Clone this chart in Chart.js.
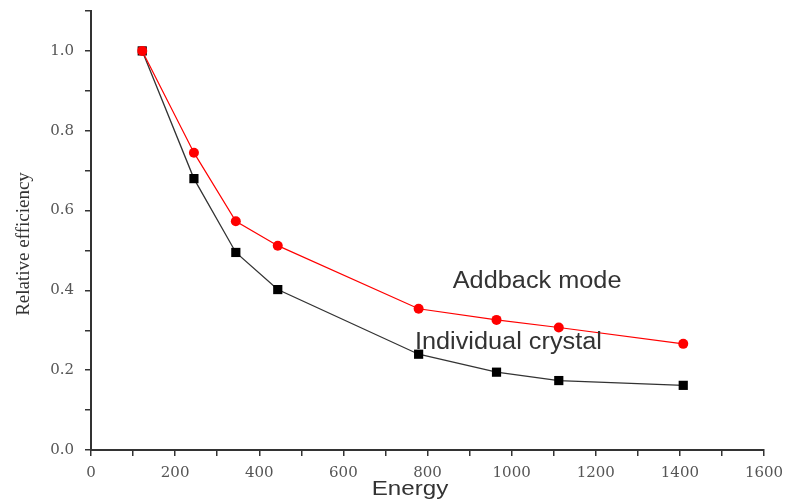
<!DOCTYPE html>
<html>
<head>
<meta charset="utf-8">
<script src="https://cdn.jsdelivr.net/npm/chart.js@4.4.0/dist/chart.umd.min.js"></script>
<style>
    html, body { margin: 0; padding: 0; background: #fff; }
    #wrap { position: relative; width: 788px; height: 504px; }
</style>
</head>
<body>
<div id="wrap"><canvas id="effChart"></canvas></div>
<script>
// Eu-152 gamma lines (keV) and relative efficiencies
const energies = [121.8, 244.7, 344.3, 444.0, 778.9, 964.1, 1112.1, 1408.0];
const addbackEff = [1.0, 0.745, 0.573, 0.512, 0.354, 0.326, 0.307, 0.266];
const crystalEff = [1.0, 0.680, 0.495, 0.402, 0.240, 0.195, 0.174, 0.162];

const xTitle = 'Energy';
const yTitle = 'Relative efficiency';
const addbackLabel = 'Addback mode';
const crystalLabel = 'Individual crystal';

const axisColor = '#333';
const tickFont = { family: 'DejaVu Serif', size: 15 };

function toPoints(xs, ys) {
    return xs.map((x, i) => ({ x: x, y: ys[i] }));
}

// text a bit wider than the font, like the original scan
function stretchedText(ctx, text, x, y, sx) {
    ctx.save();
    ctx.translate(x, y);
    ctx.scale(sx, 1);
    ctx.fillText(text, 0, 0);
    ctx.restore();
}

// Draws the axis titles and the in-plot series labels
const textPlugin = {
    id: 'textLabels',
    afterDraw(chart) {
        const ctx = chart.ctx;
        const xs = chart.scales.x;
        const ys = chart.scales.y;
        ctx.save();
        ctx.fillStyle = '#333';
        ctx.textBaseline = 'middle';

        ctx.font = '23px "Liberation Sans", Arial, sans-serif';
        ctx.textAlign = 'left';
        stretchedText(ctx, addbackLabel, xs.getPixelForValue(860), ys.getPixelForValue(0.4215), 1.1);
        stretchedText(ctx, crystalLabel, xs.getPixelForValue(770), ys.getPixelForValue(0.2687), 1.1);

        ctx.font = '21px "Liberation Sans", Arial, sans-serif';
        ctx.textAlign = 'center';
        stretchedText(ctx, xTitle, 410, 489, 1.15);

        ctx.font = '19px "Liberation Serif", "Times New Roman", serif';
        ctx.translate(24, 244);
        ctx.rotate(-Math.PI / 2);
        ctx.fillText(yTitle, 0, 0);
        ctx.restore();
    }
};

const ctx = document.getElementById('effChart').getContext('2d');
new Chart(ctx, {
    type: 'line',
    data: {
        datasets: [{
            label: addbackLabel,
            data: toPoints(energies, addbackEff),
            borderColor: '#ff0000',
            backgroundColor: '#ff0000',
            borderWidth: 1.2,
            pointStyle: 'circle',
            pointRadius: 5,
            pointHoverRadius: 5,
            pointBorderWidth: 0,
            tension: 0
        }, {
            label: crystalLabel,
            data: toPoints(energies, crystalEff),
            borderColor: '#333',
            backgroundColor: '#000',
            borderWidth: 1.3,
            pointStyle: 'rect',
            pointRadius: 6.5,
            pointHoverRadius: 6.5,
            pointBorderWidth: 0,
            tension: 0
        }]
    },
    options: {
        responsive: true,
        maintainAspectRatio: false,
        animation: false,
        layout: { padding: { top: 11, right: 24, left: 0, bottom: 0 } },
        plugins: {
            legend: { display: false },
            tooltip: { enabled: false }
        },
        scales: {
            x: {
                type: 'linear',
                min: 0,
                max: 1600,
                afterFit: s => {
                    s.height = 54;
                    s.paddingLeft = 0;
                    s.paddingRight = 0;
                },
                border: { color: axisColor, width: 2 },
                grid: { drawOnChartArea: false, tickLength: 6, color: axisColor, lineWidth: 1.5 },
                ticks: {
                    stepSize: 100,
                    autoSkip: false,
                    maxRotation: 0,
                    padding: 8,
                    color: '#555',
                    font: tickFont,
                    callback: v => (v % 200 === 0 ? String(v) : '')
                }
            },
            y: {
                min: 0,
                max: 1.1,
                afterFit: s => {
                    s.width = 91;
                    s.paddingTop = 0;
                    s.paddingBottom = 0;
                },
                border: { color: axisColor, width: 2 },
                grid: { drawOnChartArea: false, tickLength: 6, color: axisColor, lineWidth: 1.5 },
                ticks: {
                    stepSize: 0.1,
                    autoSkip: false,
                    padding: 11,
                    color: '#555',
                    font: tickFont,
                    callback: v => (Math.round(v * 10) % 2 === 0 ? v.toFixed(1) : '')
                }
            }
        }
    },
    plugins: [textPlugin]
});
</script>
</body>
</html>
